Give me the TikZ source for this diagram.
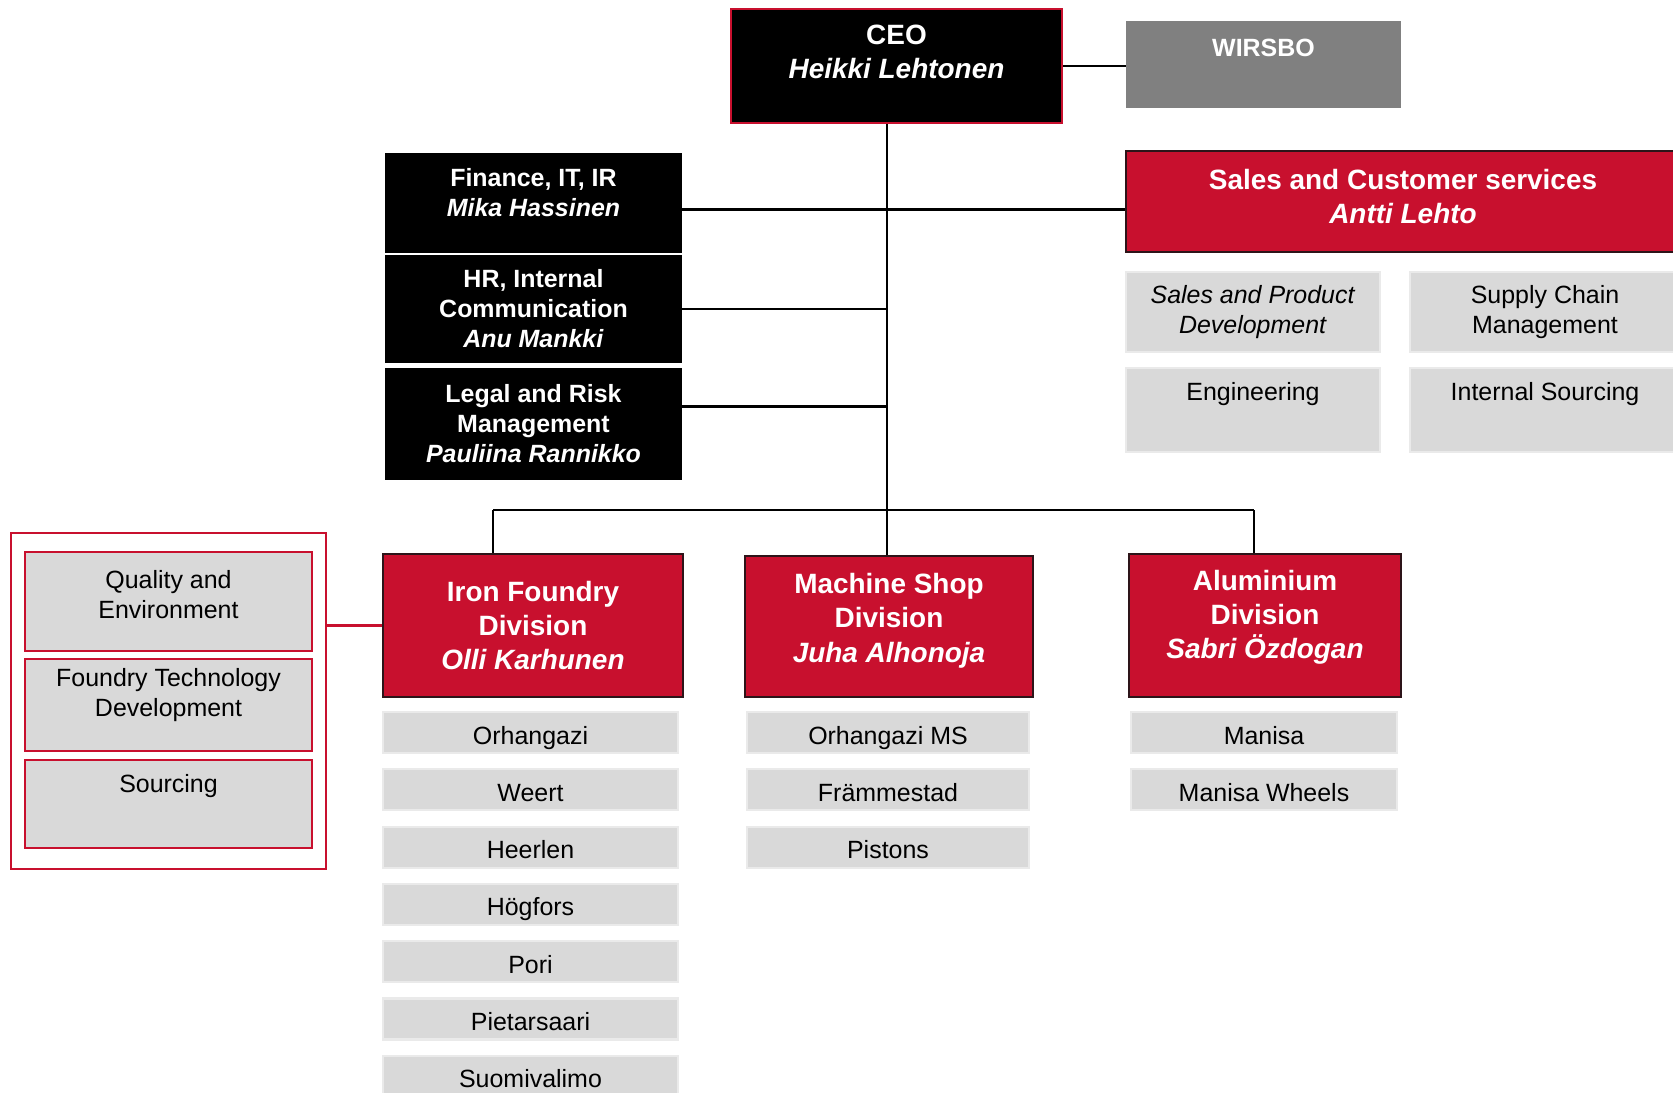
\documentclass[tikz,border=0pt]{standalone}
\usepackage{fontspec}
\setmainfont{Liberation Sans}
\usepackage{tikz}
\usetikzlibrary{positioning}
\definecolor{orgred}{RGB}{200,16,46}
\definecolor{subgrey}{RGB}{217,217,217}
\definecolor{edgegrey}{RGB}{234,234,234}
\definecolor{wgrey}{RGB}{128,128,128}
\definecolor{divedge}{RGB}{45,20,25}

\begin{document}
\begin{tikzpicture}[node distance={1.146cm},
  big/.style = {font=\bfseries\fontsize{15.9}{19.4}\selectfont},
  mid/.style = {font=\bfseries\fontsize{14.2}{17.1}\selectfont},
  small/.style = {font=\fontsize{14.2}{17.1}\selectfont},
  exec/.style = {fill=black, text=white, align=center, inner sep=0pt, mid, minimum width=5.94cm},
  div/.style = {draw=divedge, line width=1.2pt, fill=orgred, text=white, align=center, inner sep=0pt, big},
  unit/.style = {draw=edgegrey, line width=1.2pt, fill=subgrey, align=center, inner sep=0pt, small},
  site/.style = {unit, minimum height=0.82cm, text height=0.46cm, text depth=0cm},
  staff/.style = {draw=orgred, line width=1.2pt, fill=subgrey, align=center, inner sep=0pt, small, minimum width=5.74cm},
  link/.style = {line width=1.4pt}]
\useasboundingbox (0,0) rectangle (33.46,-21.84);

% top
\node[fill=black, draw=orgred, line width=1.2pt, text=white, align=center, inner sep=0pt, big, minimum width=6.62cm, minimum height=2.28cm] (ceo) at (17.93,-1.32) {CEO\\\textit{Heikki Lehtonen}\\[-3.6pt]\mbox{}};
\node[fill=wgrey, text=white, align=center, inner sep=0pt, mid, minimum width=5.5cm, minimum height=1.74cm] (wirsbo) at (25.27,-1.29) {WIRSBO\\[2.4pt]\mbox{}};

% group functions
\node[exec, minimum height=2.00cm] (fin) at (10.67,-4.06) {Finance, IT, IR\\\textit{Mika Hassinen}\\[-4.9pt]\mbox{}};
\node[exec, minimum height=2.16cm] (hr) at (10.67,-6.18) {HR, Internal\\Communication\\\textit{Anu Mankki}};
\node[exec, minimum height=2.24cm] (legal) at (10.67,-8.48) {Legal and Risk\\Management\\\textit{Pauliina Rannikko}};

% sales
\node[div, minimum width=11.08cm, minimum height=2.02cm] (sales) at (28.06,-4.03) {Sales and Customer services\\\textit{Antti Lehto}\\[-13.4pt]\mbox{}};
\node[unit, minimum width=5.08cm, minimum height=1.60cm] (spd) at (25.06,-6.24) {\textit{Sales and Product}\\\textit{Development}};
\node[unit, minimum width=5.40cm, minimum height=1.60cm] (scm) at (30.90,-6.24) {Supply Chain\\Management};
\node[unit, minimum width=5.08cm, minimum height=1.68cm] (eng) at (25.06,-8.20) {Engineering\\[3.7pt]\mbox{}};
\node[unit, minimum width=5.40cm, minimum height=1.68cm] (isrc) at (30.90,-8.20) {Internal Sourcing\\[3.7pt]\mbox{}};

% divisions
\node[div, minimum width=6.00cm, minimum height=2.86cm] (iron) at (10.66,-12.51) {Iron Foundry\\Division\\\textit{Olli Karhunen}};
\node[div, minimum width=5.76cm, minimum height=2.82cm] (mach) at (17.78,-12.53) {Machine Shop\\Division\\\textit{Juha Alhonoja}\\[-9.5pt]\mbox{}};
\node[div, minimum width=5.44cm, minimum height=2.86cm] (alu) at (25.30,-12.51) {Aluminium\\Division\\\textit{Sabri Özdogan}\\[-6.3pt]\mbox{}};

% iron foundry sites
\node[site, minimum width=5.90cm] (if1) at (10.61,-14.65) {Orhangazi};
\node[site, minimum width=5.90cm] (if2) [below of=if1] {Weert};
\node[site, minimum width=5.90cm] (if3) [below of=if2] {Heerlen};
\node[site, minimum width=5.90cm] (if4) [below of=if3] {Högfors};
\node[site, minimum width=5.90cm] (if5) [below of=if4] {Pori};
\node[site, minimum width=5.90cm] (if6) [below of=if5] {Pietarsaari};
\node[site, minimum width=5.90cm] (if7) [below of=if6] {Suomivalimo};

% machine shop sites
\node[site, minimum width=5.64cm] (ms1) at (17.76,-14.65) {Orhangazi MS};
\node[site, minimum width=5.64cm] (ms2) [below of=ms1] {Främmestad};
\node[site, minimum width=5.64cm] (ms3) [below of=ms2] {Pistons};

% aluminium sites
\node[site, minimum width=5.32cm] (al1) at (25.28,-14.65) {Manisa};
\node[site, minimum width=5.32cm] (al2) [below of=al1] {Manisa Wheels};

% iron foundry staff
\node[draw=orgred, line width=1.2pt, minimum width=6.30cm, minimum height=6.72cm] (grp) at (3.37,-14.02) {};
\node[staff, minimum height=1.98cm] (qual) at (3.37,-12.03) {Quality and\\Environment\\[-8.6pt]\mbox{}};
\node[staff, minimum height=1.84cm] (ftd) at (3.37,-14.10) {Foundry Technology\\Development\\[-3.1pt]\mbox{}};
\node[staff, minimum height=1.76cm] (srcg) at (3.37,-16.08) {Sourcing\\[6pt]\mbox{}};

% lines
\coordinate (trunk) at (17.74,-10.20);
\coordinate (busl) at (9.86,-10.20);
\coordinate (busr) at (25.08,-10.20);
\draw[link] (ceo.south -| trunk) -- (trunk);
\draw[link] (ceo.east) -- (wirsbo.west |- ceo.east);
\draw[link] ([yshift=-1.3mm]fin.east) -- ([yshift=-1.3mm]sales.west |- fin.east);
\draw[link] (hr.east) -- (hr.east -| trunk);
\draw[link] ([yshift=3.5mm]legal.east) -- ([yshift=3.5mm]legal.east -| trunk);
\draw[link] (busl) -- (busr);
\draw[link] (busl) -- (busl |- iron.north);
\draw[link] (trunk) -- (trunk |- mach.north);
\draw[link] (busr) -- (busr |- alu.north);
\draw[link, orgred] (iron.west) -- (iron.west -| grp.east);
\end{tikzpicture}
\end{document}
